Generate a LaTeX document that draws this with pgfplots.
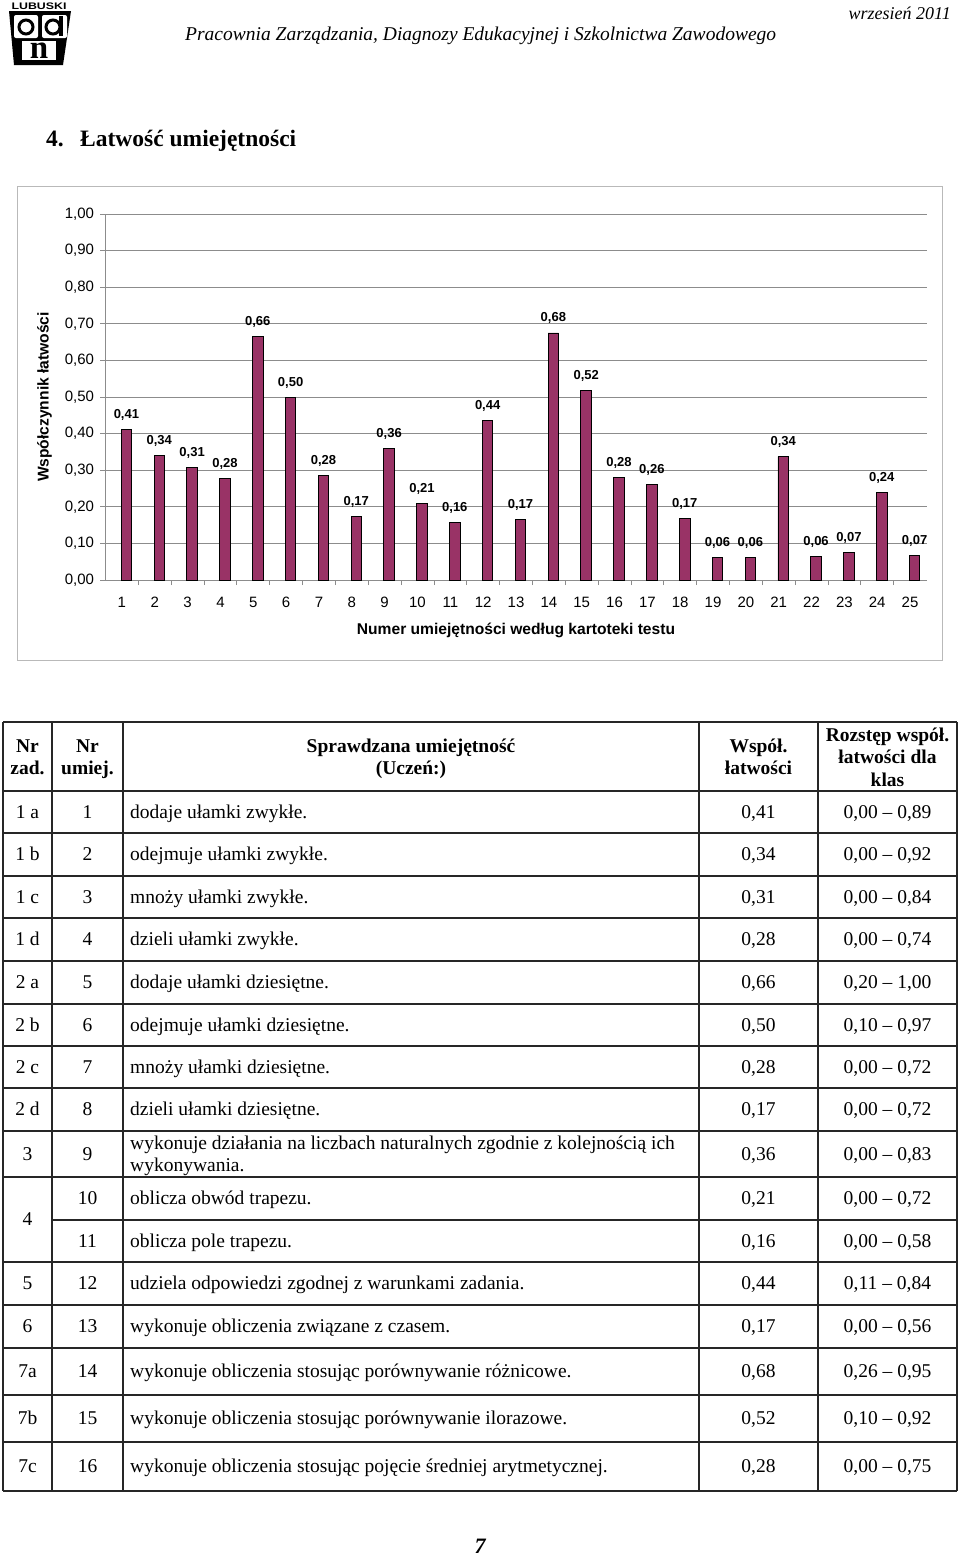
\documentclass[border=0pt]{standalone}
\usepackage{fontspec}
\setmainfont{Liberation Serif}
\newfontfamily\arial{Liberation Sans}
\usepackage{pgfplots}
\pgfplotsset{compat=1.18}
\definecolor{barfill}{RGB}{153,51,102}
\definecolor{gridgray}{RGB}{140,140,140}
\newcommand{\fs}[1]{\fontsize{#1}{#1}\selectfont}
% one table row: baseline, nr zad., nr umiej., text, wsp., rozstep
\newcommand{\trow}[6]{%
  \node[anchor=base] at (27.5,#1) {#2};
  \node[anchor=base] at (87.5,#1) {#3};
  \node[anchor=base west] at (130,#1) {#4};
  \node[anchor=base] at (758.5,#1) {#5};
  \node[anchor=base] at (887.5,#1) {#6};}

\begin{document}
\begin{tikzpicture}
\begin{scope}[x=1pt,y=-1pt]
\path[use as bounding box, fill=white] (0,0) rectangle (960,1556);

% logo
\node[font=\arial\bfseries\fs{9.5}, inner sep=0, xscale=1.3] at (39,6) {LUBUSKI};
\fill[black] (9,11) -- (71,11) -- (63,65) -- (14,65) -- cycle;
\fill[white, rounded corners=2] (14,15) rectangle (38,38);
\fill[white, rounded corners=2] (42,15) rectangle (67,38);
\draw[black, line width=3] (26,27) circle (7);
\draw[black, line width=3] (53,27) circle (7);
\fill[black] (59,16) rectangle (63,36);
\fill[white] (22,41) rectangle (56,60);
\node[font=\fs{33}\bfseries, inner sep=0, anchor=base] at (39,58) {n};

% header
\node[anchor=base east, font=\fs{18}\itshape, inner sep=0] at (951,19) {wrzesień 2011};
\node[anchor=base west, font=\fs{19.5}\itshape, inner sep=0] at (185,40) {Pracownia Zarządzania, Diagnozy Edukacyjnej i Szkolnictwa Zawodowego};
\node[anchor=base west, font=\fs{23.5}\bfseries, inner sep=0] at (46,146) {4.};
\node[anchor=base west, font=\fs{23.5}\bfseries, inner sep=0] at (80,146) {Łatwość umiejętności};

% chart frame
\draw[gray!55, line width=1pt] (17,186) rectangle (942,660);

% table lines
\begin{scope}[draw=black!85, line width=1.2pt]
\foreach \yy in {722,791,833,876,918,961,1004,1046,1088,1131,1177,1262,1305,1348,1395,1442,1491}
  \draw (3,\yy) -- (957,\yy);
\draw (52,1220) -- (957,1220);
\foreach \xx in {3,52,123,699,818,957}
  \draw (\xx,722) -- (\xx,1491);
\end{scope}

% table header
\begin{scope}[font=\fs{19.5}\bfseries, inner sep=0]
\node[anchor=base] at (27.5,752) {Nr};
\node[anchor=base] at (27.5,774) {zad.};
\node[anchor=base] at (87.5,752) {Nr};
\node[anchor=base] at (87.5,774) {umiej.};
\node[anchor=base] at (411,752) {Sprawdzana umiejętność};
\node[anchor=base] at (411,774) {(Uczeń:)};
\node[anchor=base] at (758.5,752) {Współ.};
\node[anchor=base] at (758.5,774) {łatwości};
\node[anchor=base] at (887.5,741) {Rozstęp współ.};
\node[anchor=base] at (887.5,763) {łatwości dla};
\node[anchor=base] at (887.5,786) {klas};
\end{scope}

% table body
\begin{scope}[font=\fs{19.5}, inner sep=0]
\trow{818}{1 a}{1}{dodaje ułamki zwykłe.}{0,41}{0,00 – 0,89}
\trow{860.5}{1 b}{2}{odejmuje ułamki zwykłe.}{0,34}{0,00 – 0,92}
\trow{903}{1 c}{3}{mnoży ułamki zwykłe.}{0,31}{0,00 – 0,84}
\trow{945.5}{1 d}{4}{dzieli ułamki zwykłe.}{0,28}{0,00 – 0,74}
\trow{988.5}{2 a}{5}{dodaje ułamki dziesiętne.}{0,66}{0,20 – 1,00}
\trow{1031}{2 b}{6}{odejmuje ułamki dziesiętne.}{0,50}{0,10 – 0,97}
\trow{1073}{2 c}{7}{mnoży ułamki dziesiętne.}{0,28}{0,00 – 0,72}
\trow{1115.5}{2 d}{8}{dzieli ułamki dziesiętne.}{0,17}{0,00 – 0,72}
\trow{1160}{3}{9}{}{0,36}{0,00 – 0,83}
\node[anchor=base west] at (130,1149) {wykonuje działania na liczbach naturalnych zgodnie z kolejnością ich};
\node[anchor=base west] at (130,1171) {wykonywania.};
\node[anchor=base] at (27.5,1225.5) {4};
\trow{1204.5}{}{10}{oblicza obwód trapezu.}{0,21}{0,00 – 0,72}
\trow{1247}{}{11}{oblicza pole trapezu.}{0,16}{0,00 – 0,58}
\trow{1289.5}{5}{12}{udziela odpowiedzi zgodnej z warunkami zadania.}{0,44}{0,11 – 0,84}
\trow{1332.5}{6}{13}{wykonuje obliczenia związane z czasem.}{0,17}{0,00 – 0,56}
\trow{1377.5}{7a}{14}{wykonuje obliczenia stosując porównywanie różnicowe.}{0,68}{0,26 – 0,95}
\trow{1424.5}{7b}{15}{wykonuje obliczenia stosując porównywanie ilorazowe.}{0,52}{0,10 – 0,92}
\trow{1472.5}{7c}{16}{wykonuje obliczenia stosując pojęcie średniej arytmetycznej.}{0,28}{0,00 – 0,75}
\end{scope}

% page number
\node[anchor=base, font=\fs{22}\bfseries\itshape, inner sep=0] at (480,1553) {7};
\end{scope}

\begin{axis}[
  at={(105.5pt,-580pt)}, anchor=south west,
  width=821pt, height=366pt, scale only axis,
  xmin=0.5, xmax=25.5, ymin=0, ymax=1,
  axis x line*=bottom, axis y line*=left,
  axis line style={gridgray, line width=0.8pt, -},
  ytick={0,0.1,0.2,0.3,0.4,0.5,0.6,0.7,0.8,0.9,1},
  xtick={1,...,25}, minor x tick num=1,
  ymajorgrids, grid style={gridgray, line width=0.8pt},
  tick align=outside, major tick length=5pt, minor tick length=5pt,
  major x tick style={draw=none},
  minor x tick style={gridgray, line width=0.8pt},
  y tick style={gridgray, line width=0.8pt},
  tick label style={font=\arial\fs{15}},
  /pgf/number format/assume math mode=true,
  yticklabel style={xshift=-3pt, /pgf/number format/use comma, /pgf/number format/fixed, /pgf/number format/fixed zerofill, /pgf/number format/precision=2},
  x tick label style={yshift=-8pt, text height=11pt, text depth=0pt},
  xlabel={Numer umiejętności według kartoteki testu},
  ylabel={Współczynnik łatwości},
  every axis x label/.style={at={(rel axis cs:0.5,0)}, yshift=-50pt, anchor=center, font=\arial\bfseries\fs{15.6}},
  every axis y label/.style={at={(rel axis cs:0,0.5)}, xshift=-61pt, rotate=90, anchor=center, font=\arial\bfseries\fs{15.6}},
  ybar, bar width=10.5pt, bar shift=4.5pt,
  point meta=explicit,
  nodes near coords,
  nodes near coords style={font=\arial\bfseries\fs{13}, /pgf/number format/use comma, /pgf/number format/fixed, /pgf/number format/fixed zerofill, /pgf/number format/precision=2},
  every node near coord/.append style={anchor=base, yshift=11pt, inner sep=0pt},
]
\addplot[fill=barfill, draw=black, line width=0.9pt] coordinates {
(1,0.410) [0.41]
(2,0.340) [0.34]
(3,0.308) [0.31]
(4,0.278) [0.28]
(5,0.665) [0.66]
(6,0.500) [0.50]
(7,0.285) [0.28]
(8,0.174) [0.17]
(9,0.360) [0.36]
(10,0.208) [0.21]
(11,0.158) [0.16]
(12,0.437) [0.44]
(13,0.166) [0.17]
(14,0.675) [0.68]
(15,0.519) [0.52]
(16,0.280) [0.28]
(17,0.261) [0.26]
(18,0.169) [0.17]
(19,0.061) [0.06]
(20,0.061) [0.06]
(21,0.337) [0.34]
(22,0.064) [0.06]
(23,0.076) [0.07]
(24,0.240) [0.24]
(25,0.066) [0.07]
};
\end{axis}
\end{tikzpicture}
\end{document}
